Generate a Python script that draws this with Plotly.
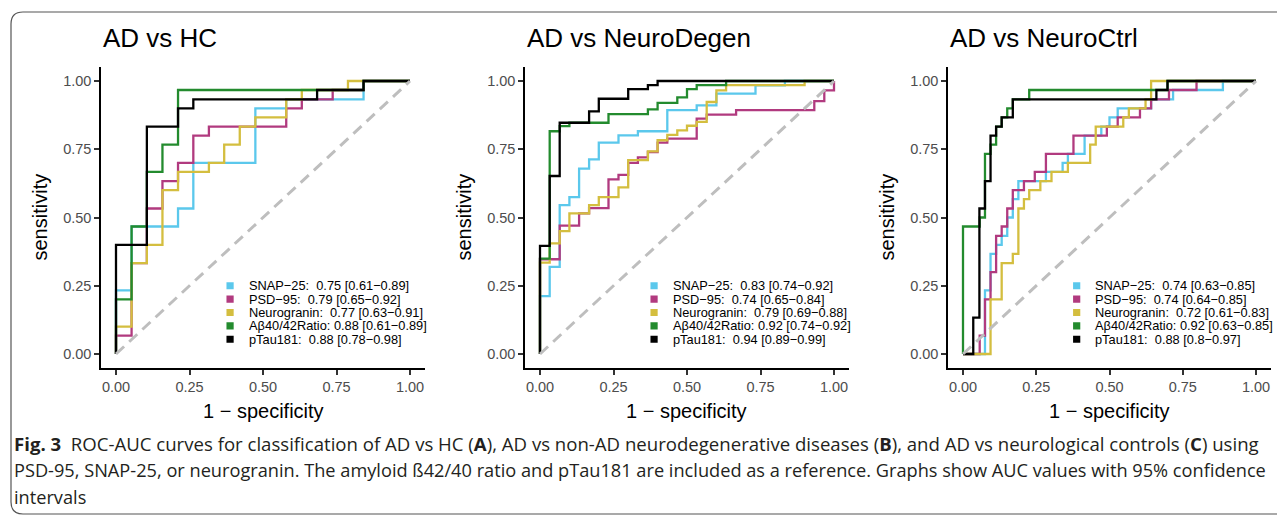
import plotly.graph_objects as go

# ---------------- data ----------------
SERIES = ["SNAP\u221225", "PSD\u221295", "Neurogranin", "A\u03b240/42Ratio", "pTau181"]
COLORS = ["#5BC8EC", "#B13A7F", "#D4BE3F", "#238B2E", "#000000"]
PANEL_TITLES = ["AD vs HC", "AD vs NeuroDegen", "AD vs NeuroCtrl"]

# Panel A: AD vs HC  (FPR = 1 - specificity, TPR = sensitivity; step tops)
A_SNAP_FPR = [0, 0, 0.053, 0.211, 0.263, 0.474, 0.579, 0.842, 1]
A_SNAP_TPR = [0, 0.233, 0.467, 0.533, 0.7, 0.9, 0.933, 1, 1]
A_PSD_FPR = [0, 0, 0.053, 0.105, 0.158, 0.211, 0.263, 0.316, 0.579, 0.632, 0.737, 0.842, 1]
A_PSD_TPR = [0, 0.067, 0.333, 0.533, 0.633, 0.7, 0.8, 0.833, 0.9, 0.933, 0.967, 1, 1]
A_NRGN_FPR = [0, 0, 0.053, 0.105, 0.158, 0.211, 0.316, 0.368, 0.421, 0.474, 0.579, 0.632, 0.789, 1]
A_NRGN_TPR = [0, 0.1, 0.333, 0.4, 0.6, 0.667, 0.7, 0.767, 0.833, 0.867, 0.933, 0.967, 1, 1]
A_ABR_FPR = [0, 0, 0.053, 0.105, 0.158, 0.211, 0.842, 1]
A_ABR_TPR = [0, 0.2, 0.467, 0.667, 0.767, 0.967, 1, 1]
A_PTAU_FPR = [0, 0, 0.105, 0.211, 0.263, 0.684, 0.842, 1]
A_PTAU_TPR = [0, 0.4, 0.833, 0.9, 0.933, 0.967, 1, 1]

# Panel B: AD vs NeuroDegen
B_SNAP_FPR = [0, 0, 0.033, 0.067, 0.1, 0.133, 0.167, 0.2, 0.267, 0.333, 0.433, 0.533, 0.6, 0.733, 0.833, 1]
B_SNAP_TPR = [0, 0.212, 0.319, 0.545, 0.575, 0.679, 0.713, 0.774, 0.801, 0.816, 0.893, 0.911, 0.954, 0.984, 1, 1]
B_PSD_FPR = [0, 0, 0.067, 0.133, 0.167, 0.233, 0.267, 0.3, 0.333, 0.367, 0.4, 0.433, 0.533, 0.567, 0.667, 0.933, 0.967, 1]
B_PSD_TPR = [0, 0.347, 0.47, 0.515, 0.534, 0.64, 0.656, 0.7, 0.72, 0.74, 0.774, 0.789, 0.862, 0.877, 0.893, 0.926, 0.966, 1]
B_NRGN_FPR = [0, 0, 0.033, 0.067, 0.1, 0.167, 0.2, 0.267, 0.3, 0.367, 0.4, 0.433, 0.467, 0.5, 0.533, 0.567, 0.6, 0.633, 0.9, 1]
B_NRGN_TPR = [0, 0.335, 0.405, 0.45, 0.515, 0.545, 0.575, 0.61, 0.71, 0.742, 0.783, 0.803, 0.819, 0.836, 0.85, 0.923, 0.966, 0.985, 1, 1]
B_ABR_FPR = [0, 0, 0.033, 0.067, 0.1, 0.233, 0.367, 0.4, 0.467, 0.5, 0.533, 0.633, 1]
B_ABR_TPR = [0, 0.349, 0.816, 0.835, 0.847, 0.879, 0.896, 0.92, 0.94, 0.97, 0.985, 1, 1]
B_PTAU_FPR = [0, 0, 0.033, 0.067, 0.167, 0.2, 0.3, 0.367, 0.4, 1]
B_PTAU_TPR = [0, 0.396, 0.652, 0.847, 0.889, 0.935, 0.97, 0.985, 1, 1]

# Panel C: AD vs NeuroCtrl
C_SNAP_FPR = [0, 0.075, 0.094, 0.113, 0.132, 0.151, 0.17, 0.189, 0.283, 0.34, 0.358, 0.415, 0.472, 0.5, 0.528, 0.642, 0.717, 0.887, 1]
C_SNAP_TPR = [0, 0.233, 0.367, 0.4, 0.433, 0.5, 0.567, 0.633, 0.667, 0.7, 0.733, 0.8, 0.833, 0.867, 0.9, 0.933, 0.967, 1, 1]
C_PSD_FPR = [0, 0.057, 0.075, 0.094, 0.113, 0.132, 0.151, 0.17, 0.208, 0.245, 0.283, 0.377, 0.491, 0.528, 0.604, 0.642, 0.703, 0.797, 1]
C_PSD_TPR = [0, 0.067, 0.2, 0.3, 0.433, 0.467, 0.533, 0.6, 0.633, 0.667, 0.733, 0.8, 0.833, 0.867, 0.9, 0.933, 0.967, 1, 1]
C_NRGN_FPR = [0, 0.094, 0.132, 0.17, 0.189, 0.208, 0.226, 0.264, 0.302, 0.358, 0.434, 0.453, 0.547, 0.566, 0.623, 0.642, 1]
C_NRGN_TPR = [0, 0.2, 0.333, 0.367, 0.533, 0.567, 0.6, 0.633, 0.667, 0.7, 0.767, 0.833, 0.867, 0.9, 0.933, 1, 1]
C_ABR_FPR = [0, 0, 0.057, 0.075, 0.094, 0.113, 0.132, 0.151, 0.17, 0.226, 0.698, 1]
C_ABR_TPR = [0, 0.467, 0.5, 0.733, 0.767, 0.833, 0.867, 0.9, 0.933, 0.967, 1, 1]
C_PTAU_FPR = [0, 0.035, 0.056, 0.075, 0.094, 0.113, 0.132, 0.17, 0.66, 0.698, 1]
C_PTAU_TPR = [0, 0.133, 0.533, 0.633, 0.8, 0.833, 0.867, 0.933, 0.967, 1, 1]

# AUC labels [95% CI]
A_AUC = ["0.75 [0.61\u22120.89]", "0.79 [0.65\u22120.92]", "0.77 [0.63\u22120.91]", "0.88 [0.61\u22120.89]", "0.88 [0.78\u22120.98]"]
B_AUC = ["0.83 [0.74\u22120.92]", "0.74 [0.65\u22120.84]", "0.79 [0.69\u22120.88]", "0.92 [0.74\u22120.92]", "0.94 [0.89\u22120.99]"]
C_AUC = ["0.74 [0.63\u22120.85]", "0.74 [0.64\u22120.85]", "0.72 [0.61\u22120.83]", "0.92 [0.63\u22120.85]", "0.88 [0.8\u22120.97]"]

CHANCE = [0, 1]
TICKS = [0, 0.25, 0.5, 0.75, 1]

CAPTION = [
    "<b>Fig. 3</b>\u00a0\u00a0ROC-AUC curves for classification of AD vs HC (<b>A</b>), AD vs non-AD neurodegenerative diseases (<b>B</b>), and AD vs neurological controls (<b>C</b>) using",
    "PSD-95, SNAP-25, or neurogranin. The amyloid \u00df42/40 ratio and pTau181 are included as a reference. Graphs show AUC values with 95% confidence",
    "intervals",
]

PANELS = [
    ([A_SNAP_FPR, A_PSD_FPR, A_NRGN_FPR, A_ABR_FPR, A_PTAU_FPR],
     [A_SNAP_TPR, A_PSD_TPR, A_NRGN_TPR, A_ABR_TPR, A_PTAU_TPR], A_AUC),
    ([B_SNAP_FPR, B_PSD_FPR, B_NRGN_FPR, B_ABR_FPR, B_PTAU_FPR],
     [B_SNAP_TPR, B_PSD_TPR, B_NRGN_TPR, B_ABR_TPR, B_PTAU_TPR], B_AUC),
    ([C_SNAP_FPR, C_PSD_FPR, C_NRGN_FPR, C_ABR_FPR, C_PTAU_FPR],
     [C_SNAP_TPR, C_PSD_TPR, C_NRGN_TPR, C_ABR_TPR, C_PTAU_TPR], C_AUC),
]

# ---------------- layout geometry ----------------
OFF = 8                      # page body margin of the browser
W, H = 1285 - OFF, 516 - OFF
FONT = "Liberation Sans, Arial, Helvetica, sans-serif"
CAP_FONT = "Open Sans, sans-serif"
CAP_SIZES = [18.6, 18.2, 18.2]
X0_PX = [116, 540, 963]      # window pixel of data x=0 per panel
XS_PX = [294, 294, 293]      # pixels per data unit
Y0_PX, YS_PX = 354, 273      # window pixel of data y=0, pixels per unit
PAD = 0.05


def px(v):
    return (v - OFF) / W


def py(v):
    return 1 - (v - OFF) / H


fig = go.Figure()
layout = dict(
    width=W, height=H, margin=dict(l=0, r=0, t=0, b=0),
    paper_bgcolor="white", plot_bgcolor="white", showlegend=False,
    font=dict(family=FONT, color="black"),
)
annotations, shapes = [], []

ydom = [py(Y0_PX + PAD * YS_PX), py(Y0_PX - (1 + PAD) * YS_PX)]

for p, (fprs, tprs, aucs) in enumerate(PANELS):
    sfx = "" if p == 0 else str(p + 1)
    xa, ya = "x" + sfx, "y" + sfx
    x0, xs = X0_PX[p], XS_PX[p]
    axis_common = dict(
        range=[-PAD, 1 + PAD], tickvals=TICKS, tickformat=".2f",
        showline=True, linecolor="black", linewidth=2,
        ticks="outside", ticklen=5, tickwidth=2, tickcolor="#333333",
        tickfont=dict(size=14.5, color="#4D4D4D", family=FONT),
        showgrid=False, zeroline=False, fixedrange=True,
    )
    layout["xaxis" + sfx] = dict(axis_common, domain=[px(x0 - PAD * xs), px(x0 + (1 + PAD) * xs)], anchor=ya)
    layout["yaxis" + sfx] = dict(axis_common, domain=ydom, anchor=xa)

    for s in range(len(SERIES)):
        fig.add_trace(go.Scatter(
            x=fprs[s], y=tprs[s], mode="lines",
            line=dict(color=COLORS[s], width=2.3, shape="hv"),
            xaxis=xa, yaxis=ya, hoverinfo="skip", showlegend=False,
        ))
    fig.add_trace(go.Scatter(
        x=CHANCE, y=CHANCE, mode="lines",
        line=dict(color="#BEBEBE", width=3, dash="11px,7px"),
        xaxis=xa, yaxis=ya, hoverinfo="skip", showlegend=False,
    ))

    # panel title
    annotations.append(dict(
        text=PANEL_TITLES[p], x=px(x0 - PAD * xs), y=py(38), xref="paper", yref="paper",
        xanchor="left", yanchor="middle", showarrow=False,
        font=dict(size=26, family=FONT, color="black"),
    ))
    # axis titles
    annotations.append(dict(
        text="sensitivity", x=px(x0 - 76), y=py(Y0_PX - 0.5 * YS_PX), xref="paper", yref="paper",
        xanchor="center", yanchor="middle", textangle=-90, showarrow=False,
        font=dict(size=20, family=FONT, color="black"),
    ))
    annotations.append(dict(
        text="1 \u2212 specificity", x=px(x0 + 0.5 * xs), y=py(411), xref="paper", yref="paper",
        xanchor="center", yanchor="middle", showarrow=False,
        font=dict(size=20, family=FONT, color="black"),
    ))
    # legend (inside, bottom right)
    for s in range(len(SERIES)):
        yrow = 0.25 - 0.049 * s
        sep = " " if s == 3 else "\u00a0\u00a0"
        shapes.append(dict(
            type="rect", xref=xa, yref=ya, xsizemode="pixel", ysizemode="pixel",
            xanchor=0.388, yanchor=yrow, x0=-3.6, x1=3.6, y0=-3.6, y1=3.6,
            fillcolor=COLORS[s], line=dict(width=0),
        ))
        annotations.append(dict(
            text=SERIES[s] + ":" + sep + aucs[s], x=0.445, y=yrow, xref=xa, yref=ya,
            xanchor="left", yanchor="middle", showarrow=False,
            font=dict(size=12.8, family=FONT, color="black"),
        ))

# caption
for i, line in enumerate(CAPTION):
    annotations.append(dict(
        text=line, x=px(12), y=py(443 + 27.2 * i), xref="paper", yref="paper",
        xanchor="left", yanchor="middle", showarrow=False,
        font=dict(size=CAP_SIZES[i], family=CAP_FONT, color="#231F20"),
    ))

# rounded frame around the figure
xl, xr, yt, yb = px(11), px(1292), py(12), py(514)
rx, ry = 12 / W, 12 / H
shapes.append(dict(
    type="path", xref="paper", yref="paper",
    path=(f"M {xr},{yt} L {xl + rx},{yt} Q {xl},{yt} {xl},{yt - ry} "
          f"L {xl},{yb + ry} Q {xl},{yb} {xl + rx},{yb} L {xr},{yb}"),
    line=dict(color="#555555", width=1.2),
))

layout["annotations"] = annotations
layout["shapes"] = shapes
fig.update_layout(**layout)
fig.write_html("out.html")
